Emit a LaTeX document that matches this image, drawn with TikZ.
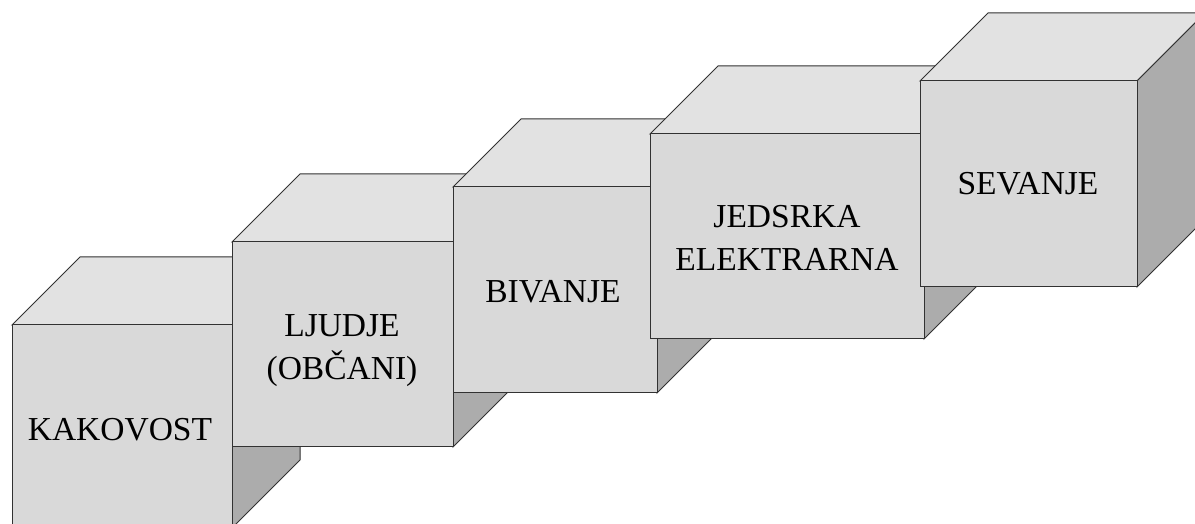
\documentclass[tikz,border=0pt]{standalone}
\usepackage{fontspec}
\setmainfont{Liberation Serif}
\definecolor{frontc}{RGB}{217,217,217}
\definecolor{topc}{RGB}{226,226,226}
\definecolor{sidec}{RGB}{172,172,172}
\definecolor{edgec}{RGB}{50,50,50}
\tikzset{
  pics/cube/.style n args={3}{code={
    \filldraw[fill=topc] (0,0) -- ++(#3,#3) -- ++(#1,0) -- ++(-#3,-#3) -- cycle;
    \filldraw[fill=sidec] (#1,0) -- ++(#3,#3) -- ++(0,-#2) -- ++(-#3,-#3) -- cycle;
    \filldraw[fill=frontc] (0,0) rectangle (#1,-#2);
  }},
  lbl/.style={font=\fontsize{33.5}{43}\selectfont, align=center, inner sep=0pt, text=black, anchor=base}
}
\begin{document}
\begin{tikzpicture}[x=1pt,y=1pt,line width=1pt,draw=edgec]
\useasboundingbox (0,0) rectangle (1195,524);
\clip (0,0) rectangle (1195,524);
\fill[white] (0,0) rectangle (1195,524);
\pic[draw=edgec] (c1) at (12,199) {cube={220}{203}{68}};
\pic[draw=edgec] (c2) at (232,282) {cube={221}{205}{68}};
\pic[draw=edgec] (c3) at (453,337) {cube={204}{206}{68}};
\pic[draw=edgec] (c4) at (650,390) {cube={274}{205}{68}};
\pic[draw=edgec] (c5) at (920,443) {cube={217}{206}{68}};
\node[lbl] (t1) at (120,83) {KAKOVOST};
\node[lbl] (t2) at (342,144) {LJUDJE\\(OBČANI)};
\node[lbl] (t3) at (553,221) {BIVANJE};
\node[lbl] (t4) at (787,253) {JEDSRKA\\ELEKTRARNA};
\node[lbl] (t5) at (1028,329) {SEVANJE};
\end{tikzpicture}
\end{document}
